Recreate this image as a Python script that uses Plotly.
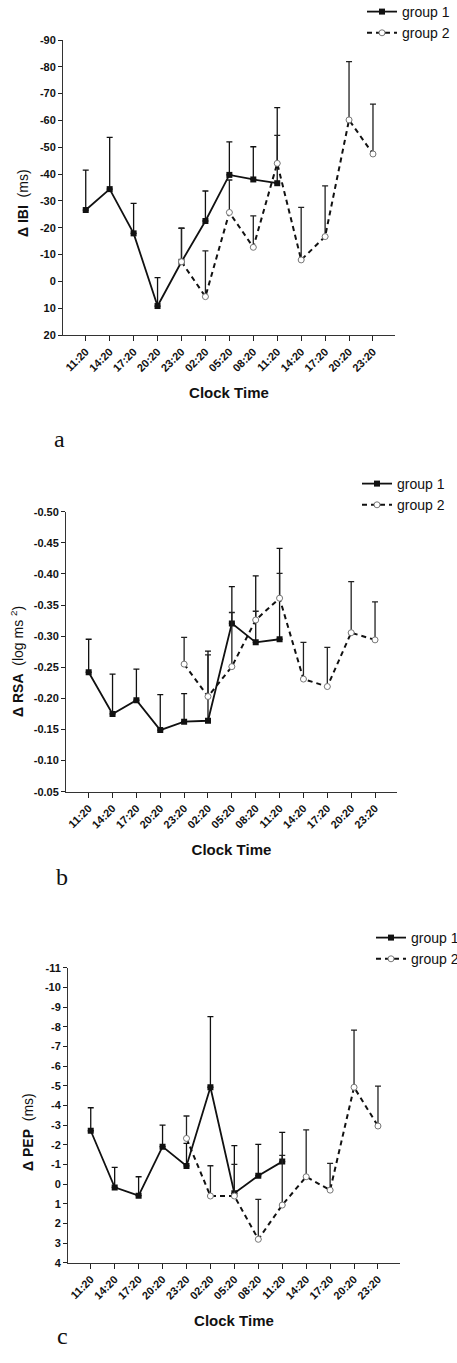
import plotly.graph_objects as go

times = ["11:20", "14:20", "17:20", "20:20", "23:20", "02:20", "05:20",
         "08:20", "11:20", "14:20", "17:20", "20:20", "23:20"]
g1_idx = list(range(0, 9))
g2_idx = list(range(4, 13))

# Panel a: delta IBI (ms)
ibi_g1 = [-26.6, -34.4, -17.9, 9.2, -7.3, -22.5, -39.7, -38.0, -36.6]
ibi_g1_sem = [14.9, 19.3, 11.2, 10.6, 12.5, 11.2, 12.3, 12.2, 28.2]
ibi_g2 = [-7.3, 5.7, -25.7, -12.7, -44.0, -8.0, -16.7, -60.2, -47.5]
ibi_g2_sem = [12.5, 17.1, 12.1, 11.7, 10.4, 19.6, 18.9, 21.7, 18.6]
ibi_ticks = [-90, -80, -70, -60, -50, -40, -30, -20, -10, 0, 10, 20]
ibi_ticktext = ["-90", "-80", "-70", "-60", "-50", "-40", "-30", "-20", "-10", "0", "10", "20"]

# Panel b: delta RSA (log ms^2)
rsa_g1 = [-0.242, -0.175, -0.197, -0.149, -0.1625, -0.164, -0.3205, -0.290, -0.295]
rsa_g1_sem = [0.053, 0.064, 0.050, 0.057, 0.045, 0.112, 0.059, 0.107, 0.146]
rsa_g2 = [-0.255, -0.203, -0.251, -0.326, -0.361, -0.231, -0.219, -0.3055, -0.294]
rsa_g2_sem = [0.043, 0.067, 0.087, 0.014, 0.040, 0.059, 0.063, 0.082, 0.061]
rsa_ticks = [-0.50, -0.45, -0.40, -0.35, -0.30, -0.25, -0.20, -0.15, -0.10, -0.05]
rsa_ticktext = ["-0.50", "-0.45", "-0.40", "-0.35", "-0.30", "-0.25", "-0.20", "-0.15", "-0.10", "-0.05"]

# Panel c: delta PEP (ms)
pep_g1 = [-2.71, 0.17, 0.59, -1.90, -0.92, -4.92, 0.47, -0.42, -1.14]
pep_g1_sem = [1.17, 1.02, 0.96, 1.10, 1.15, 3.59, 2.42, 1.60, 1.49]
pep_g2 = [-2.32, 0.61, 0.61, 2.81, 1.07, -0.37, 0.31, -4.92, -2.95]
pep_g2_sem = [1.14, 1.54, 1.61, 2.03, 2.53, 2.38, 1.36, 2.91, 2.03]
pep_ticks = list(range(-11, 5))
pep_ticktext = [str(v) for v in pep_ticks]

y_titles = ["<b>Δ IBI</b>  (ms)", "<b>Δ RSA</b>  (log ms <sup>2</sup>)", "<b>Δ PEP</b>  (ms)"]
panel_letters = ["a", "b", "c"]

FONT = "Liberation Sans, Arial, sans-serif"
SERIF = "Liberation Serif, Times New Roman, serif"
W, H = 457, 1363

fig = go.Figure()

def add_pair(xa, ya, leg, y1, e1, y2, e2):
    fig.add_trace(go.Scatter(
        x=g1_idx, y=y1, xaxis=xa, yaxis=ya, legend=leg, name="group 1",
        mode="lines+markers",
        line=dict(color="#111", width=1.8),
        marker=dict(symbol="square", size=6, color="#111"),
        error_y=dict(type="data", symmetric=False, array=[0] * len(e1), arrayminus=e1,
                     color="#111", thickness=1.3, width=3),
    ))
    fig.add_trace(go.Scatter(
        x=g2_idx, y=y2, xaxis=xa, yaxis=ya, legend=leg, name="group 2",
        mode="lines+markers",
        line=dict(color="#111", width=2, dash="5px,4px"),
        marker=dict(symbol="circle", size=6, color="white", line=dict(color="#777", width=1)),
        error_y=dict(type="data", symmetric=False, array=[0] * len(e2), arrayminus=e2,
                     color="#222", thickness=1.3, width=3),
    ))

add_pair("x", "y", "legend", ibi_g1, ibi_g1_sem, ibi_g2, ibi_g2_sem)
add_pair("x2", "y2", "legend2", rsa_g1, rsa_g1_sem, rsa_g2, rsa_g2_sem)
add_pair("x3", "y3", "legend3", pep_g1, pep_g1_sem, pep_g2, pep_g2_sem)

def px_dom_x(a, b):
    return [a / W, b / W]

def px_dom_y(top, bot):
    return [(H - bot) / H, (H - top) / H]

def py(v):
    return (H - v) / H

tickfont = dict(family=FONT, size=11, color="#111", weight="bold")

def xaxis(domain, anchor):
    return dict(domain=domain, anchor=anchor, range=[-0.95, 12.92],
                tickmode="array", tickvals=list(range(13)), ticktext=times,
                tickangle=-45, ticks="outside", ticklen=5, tickcolor="#222",
                showline=True, linecolor="#333", linewidth=1, showgrid=False,
                zeroline=False, tickfont=tickfont,
                title=dict(text="Clock Time", font=dict(family=FONT, size=15, color="#111", weight="bold"),
                           standoff=14))

def yaxis(domain, anchor, rng, tv, tt):
    return dict(domain=domain, anchor=anchor, range=rng,
                tickmode="array", tickvals=tv, ticktext=tt,
                ticks="outside", ticklen=4, tickcolor="#222",
                showline=True, linecolor="#333", linewidth=1, showgrid=False,
                zeroline=False, tickfont=tickfont)

legfont = dict(family=FONT, size=14, color="#111")

title_pos = [(23, 203), (17, 662), (28, 1132)]
letter_pos = [(52, 424), (54, 877), (55, 1351)]

annotations = []
for txt, (x, y) in zip(y_titles, title_pos):
    annotations.append(dict(text=txt, x=x / W, y=py(y), xref="paper", yref="paper",
                            showarrow=False, textangle=-90, xanchor="center", yanchor="middle",
                            font=dict(family=FONT, size=14, color="#111")))
for txt, (x, y) in zip(panel_letters, letter_pos):
    annotations.append(dict(text=txt, x=x / W, y=py(y), xref="paper", yref="paper",
                            showarrow=False, font=dict(family=SERIF, size=24, color="#111")))

fig.update_layout(
    width=W, height=H,
    margin=dict(l=0, r=0, t=0, b=0, autoexpand=False),
    paper_bgcolor="white", plot_bgcolor="white",
    showlegend=True,
    xaxis=xaxis(px_dom_x(63, 395), "y"),
    yaxis=yaxis(px_dom_y(40, 335), "x", [20, -90], ibi_ticks, ibi_ticktext),
    xaxis2=xaxis(px_dom_x(66, 397), "y2"),
    yaxis2=yaxis(px_dom_y(511.7, 791.7), "x2", [-0.05, -0.50], rsa_ticks, rsa_ticktext),
    xaxis3=xaxis(px_dom_x(68, 400), "y3"),
    yaxis3=yaxis(px_dom_y(967.7, 1262.7), "x3", [4, -11], pep_ticks, pep_ticktext),
    legend=dict(x=362 / W, y=(H + 4) / H, xanchor="left", yanchor="top",
                font=legfont, bgcolor="rgba(0,0,0,0)", itemwidth=30),
    legend2=dict(x=357 / W, y=(H - 468) / H, xanchor="left", yanchor="top",
                 font=legfont, bgcolor="rgba(0,0,0,0)", itemwidth=30),
    legend3=dict(x=371 / W, y=(H - 922) / H, xanchor="left", yanchor="top",
                 font=legfont, bgcolor="rgba(0,0,0,0)", itemwidth=30),
    annotations=annotations,
)

fig.write_html("out.html")
